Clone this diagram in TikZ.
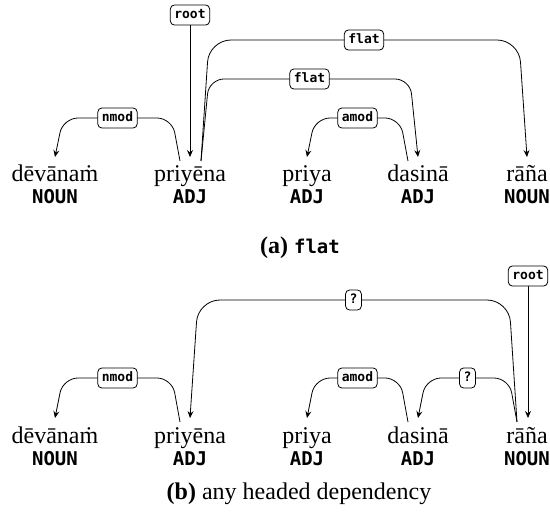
\documentclass[tikz,border=0pt]{standalone}
\usepackage{fontspec}
\setmainfont{Liberation Serif}
\newfontfamily\mono{DejaVu Sans Mono}
\usetikzlibrary{calc,arrows.meta}
\begin{document}
\begin{tikzpicture}[x=1pt,y=-1pt,
  word/.style={anchor=base,inner sep=0pt,font=\fontsize{24}{28}\selectfont},
  postag/.style={anchor=base,inner sep=0pt,font=\mono\bfseries\fontsize{19}{22}\selectfont},
  lab/.style={draw,fill=white,rounded corners=4pt,line width=0.8pt,inner xsep=4pt,inner ysep=3.5pt,
    text height=10pt,text depth=3pt,font=\mono\bfseries\fontsize{13}{14}\selectfont},
  dep/.style={line width=0.8pt,rounded corners=15pt,-{Stealth[length=7pt,width=6pt,inset=2.5pt]}},
  deptall/.style={dep,rounded corners=22pt},
  captext/.style={anchor=base,inner sep=0pt,font=\fontsize{24}{28}\selectfont}]
\useasboundingbox (0,0) rectangle (550,524);

% ---------- (a) ----------
\node[word] (w1) at (55,182) {dēvānaṁ};
\node[word] (w2) at (190,182) {priyēna};
\node[word] (w3) at (307,182) {priya};
\node[word] (w4) at (418,182) {dasinā};
\node[word] (w5) at (527,182) {rāña};
\node[postag] (p1) at (55,204) {NOUN};
\node[postag] (p2) at (190,204) {ADJ};
\node[postag] (p3) at (307,204) {ADJ};
\node[postag] (p4) at (418,204) {ADJ};
\node[postag] (p5) at (527,204) {NOUN};

\coordinate (w1T) at (55,157);
\coordinate (w2L) at (180,161);
\coordinate (w2C) at (190,157);
\coordinate (w2R) at (201,161);
\coordinate (w3T) at (307,157);
\coordinate (w4L) at (408,161);
\coordinate (w4C) at (418,157);
\coordinate (w5C) at (527,157);
\coordinate (Ha1) at (0,40);
\coordinate (Ha2) at (0,79);
\coordinate (Ha3) at (0,118);

\node[lab] (ra) at (190,15) {root};
\draw[dep] (ra) -- (w2C);
\draw[deptall] (w2R) -- ($(w2R|-Ha1)+(8,0)$) -- node[lab]{flat} ($(w5C|-Ha1)+(-8,0)$) -- (w5C);
\draw[dep] (w2R) -- ($(w2R|-Ha2)+(8,0)$) -- node[lab]{flat} ($(w4C|-Ha2)+(-8,0)$) -- (w4C);
\draw[dep] (w2L) -- ($(w2L|-Ha3)+(-8,0)$) -- node[lab]{nmod} ($(w1T|-Ha3)+(8,0)$) -- (w1T);
\draw[dep] (w4L) -- ($(w4L|-Ha3)+(-8,0)$) -- node[lab]{amod} ($(w3T|-Ha3)+(8,0)$) -- (w3T);

\node[captext] (capa) at (300,254) {\textbf{(a)} {\mono\bfseries\fontsize{19}{22}\selectfont flat}};

% ---------- (b) ----------
\node[word] (v1) at (55,443) {dēvānaṁ};
\node[word] (v2) at (190,443) {priyēna};
\node[word] (v3) at (307,443) {priya};
\node[word] (v4) at (418,443) {dasinā};
\node[word] (v5) at (527,443) {rāña};
\node[postag] (q1) at (55,466) {NOUN};
\node[postag] (q2) at (190,466) {ADJ};
\node[postag] (q3) at (307,466) {ADJ};
\node[postag] (q4) at (418,466) {ADJ};
\node[postag] (q5) at (527,466) {NOUN};

\coordinate (v1T) at (55,418);
\coordinate (v2L) at (180,422);
\coordinate (v2C) at (190,418);
\coordinate (v3T) at (307,418);
\coordinate (v4L) at (408,422);
\coordinate (v4C) at (418,418);
\coordinate (v5L) at (517,422);
\coordinate (v5C) at (528,418);
\coordinate (Hb1) at (0,300);
\coordinate (Hb2) at (0,378);

\node[lab] (rb) at (528,276) {root};
\draw[dep] (rb) -- (v5C);
\draw[deptall] (v5L) -- ($(v5L|-Hb1)+(-8,0)$) -- node[lab]{?} ($(v2C|-Hb1)+(8,0)$) -- (v2C);
\draw[dep] (v5L) -- ($(v5L|-Hb2)+(-8,0)$) -- node[lab]{?} ($(v4C|-Hb2)+(8,0)$) -- (v4C);
\draw[dep] (v2L) -- ($(v2L|-Hb2)+(-8,0)$) -- node[lab]{nmod} ($(v1T|-Hb2)+(8,0)$) -- (v1T);
\draw[dep] (v4L) -- ($(v4L|-Hb2)+(-8,0)$) -- node[lab]{amod} ($(v3T|-Hb2)+(8,0)$) -- (v3T);

\node[captext] (capb) at (299,500) {\textbf{(b)} any headed dependency};
\end{tikzpicture}
\end{document}
